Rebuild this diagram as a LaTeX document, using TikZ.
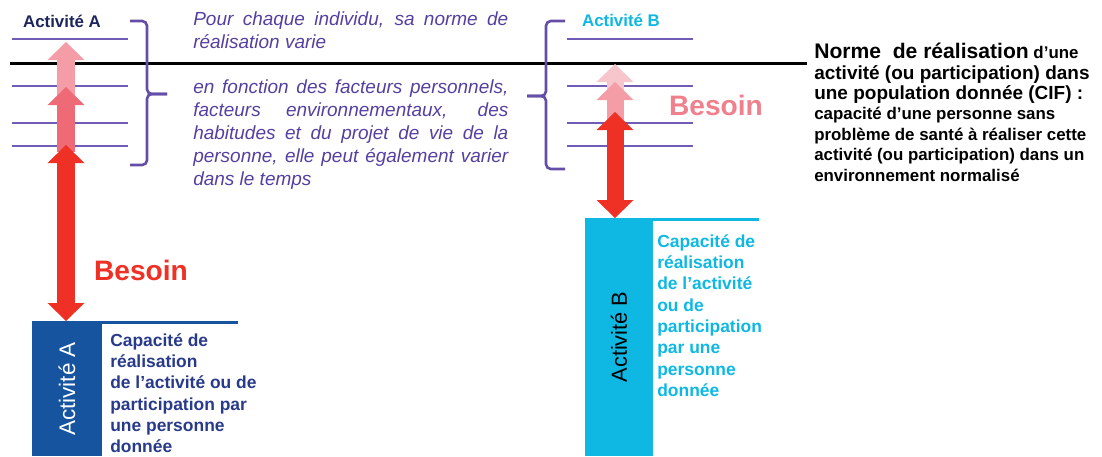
\documentclass[tikz,border=0pt]{standalone}
\usepackage{fontspec}
\setmainfont{Liberation Sans}
\usetikzlibrary{arrows.meta, positioning}
\definecolor{navydark}{RGB}{28, 38, 92}
\definecolor{navytext}{RGB}{40, 58, 138}
\definecolor{actblue}{RGB}{22, 84, 160}
\definecolor{actcyan}{RGB}{14, 184, 226}
\definecolor{normpurple}{RGB}{112, 92, 182}
\definecolor{bracepurple}{RGB}{100, 78, 168}
\definecolor{textpurple}{RGB}{84, 64, 160}
\definecolor{needred}{RGB}{238, 49, 36}
\definecolor{needpink}{RGB}{238, 106, 118}
\definecolor{needpale}{RGB}{244, 157, 166}
\definecolor{needfaint}{RGB}{246, 198, 204}
\definecolor{besoinpink}{RGB}{240, 128, 140}
\tikzset{
    toplabel/.style={font=\fontsize{12}{14}\selectfont\bfseries, inner sep=0pt},
    levelline/.style={draw=normpurple, line width=0.045cm},
    normeline/.style={draw=black, line width=0.075cm},
    bracepath/.style={draw=bracepurple, line width=0.065cm, rounded corners=0.12cm},
    needup/.style={line width=0.425cm,
        -{Triangle[width=0.925cm 0, length=0.45cm 0, line width=0pt 0]}},
    needboth/.style={line width=0.425cm,
        {Triangle[width=0.925cm 0, length=0.45cm 0, line width=0pt 0]}-{Triangle[width=0.925cm 0, length=0.45cm 0, line width=0pt 0]}},
    besoinword/.style={font=\fontsize{20}{24}\selectfont\bfseries, inner sep=0pt},
    barbox/.style={rectangle, rotate=90, inner sep=0pt},
    descbox/.style={font=\fontsize{12.4}{15.2}\selectfont\bfseries, align=left, inner sep=0pt, anchor=north west},
    notebox/.style={font=\fontsize{13.5}{16.5}\selectfont\itshape, text=textpurple, text width=7.875cm,
        align=justify, inner sep=0pt, anchor=north west},
    cifbox/.style={font=\fontsize{12}{14.5}\selectfont\bfseries, align=left, inner sep=0pt, anchor=north west},
}
\begin{document}
\begin{tikzpicture}[x=0.025cm, y=-0.025cm]
    \useasboundingbox (0,0) rectangle (1102,456);

    % norme de realisation (CIF)
    \draw[normeline] (10,63) -- (807,63);
    \node[cifbox] (cifnorm) at (814,43) {{\fontsize{15}{14.5}\selectfont Norme\ \ de réalisation} d’une\\
        {\fontsize{13.5}{14.5}\selectfont activité (ou participation) dans}\\
        {\fontsize{13.5}{14.5}\selectfont une population donnée (CIF) :}\\
        capacité d’une personne sans\\
        problème de santé à réaliser cette\\
        activité (ou participation) dans un\\
        environnement normalisé};

    % activite A
    \node[toplabel, text=navydark] (labA) at (62,21) {Activité A};
    \foreach \y in {39,86,123,146}
        \draw[levelline] (12,\y) -- (128,\y);
    \draw[bracepath] (130,21) -- (147,21) -- (147,94) -- (167,94);
    \draw[bracepath] (167,94) -- (147,94) -- (147,165) -- (130,165);

    \coordinate (a1from) at (66,112);
    \coordinate (a1to) at (66,42);
    \coordinate (a2from) at (66,152);
    \coordinate (a2to) at (66,87);
    \coordinate (a3top) at (66,145);
    \coordinate (needA) at (66,321);
    \draw[needup, needpale] (a1from) -- (a1to);
    \draw[needup, needpink] (a2from) -- (a2to);
    \draw[needboth, needred] (needA) -- (a3top);
    \node[besoinword, text=needred] (besoinA) at (141,270) {Besoin};

    \node[barbox, fill=actblue, text=white, minimum width=3.35cm, minimum height=1.75cm,
        font=\fontsize{16}{18}\selectfont] (barA) at (67,389) {Activité A};
    \draw[actblue, line width=0.075cm] (32,322.5) -- (238,322.5);
    \node[descbox, text=navytext] (descA) at (110,333) {Capacité de\\réalisation\\de l’activité ou de\\participation par\\une personne\\donnée};

    % commentaire
    \node[notebox] (noteTop) at (193,11) {Pour chaque individu, sa norme de\linebreak réalisation varie};
    \node[notebox] (noteBottom) at (193,79) {en fonction des facteurs personnels,\linebreak
        facteurs environnementaux, des\linebreak habitudes et du projet de vie de la\linebreak
        personne, elle peut également varier\linebreak dans le temps};

    % activite B
    \node[toplabel, text=actcyan] (labB) at (621,20) {Activité B};
    \foreach \y in {39,86,123,146}
        \draw[levelline] (567,\y) -- (693,\y);
    \draw[bracepath] (565,21) -- (546,21) -- (546,96) -- (527,96);
    \draw[bracepath] (527,96) -- (546,96) -- (546,169) -- (565,169);

    \coordinate (b1from) at (615,110);
    \coordinate (b1to) at (615,64);
    \coordinate (b2from) at (615,125);
    \coordinate (b2to) at (615,82);
    \coordinate (b3top) at (615,112);
    \coordinate (needB) at (615,218);
    \draw[needup, needfaint] (b1from) -- (b1to);
    \draw[needup, needpale] (b2from) -- (b2to);
    \draw[needboth, needred] (needB) -- (b3top);
    \node[besoinword, text=besoinpink] (besoinB) at (716,105) {Besoin};

    \node[barbox, fill=actcyan, text=black, minimum width=5.95cm, minimum height=1.7cm,
        font=\fontsize{15.5}{18}\selectfont] (barB) at (619,337) {Activité B};
    \draw[actcyan, line width=0.075cm] (585,219.5) -- (759,219.5);
    \node[descbox, text=actcyan] (descB) at (657,234) {Capacité de\\réalisation\\de l’activité\\ou de\\participation\\par une\\personne\\donnée};
\end{tikzpicture}
\end{document}
